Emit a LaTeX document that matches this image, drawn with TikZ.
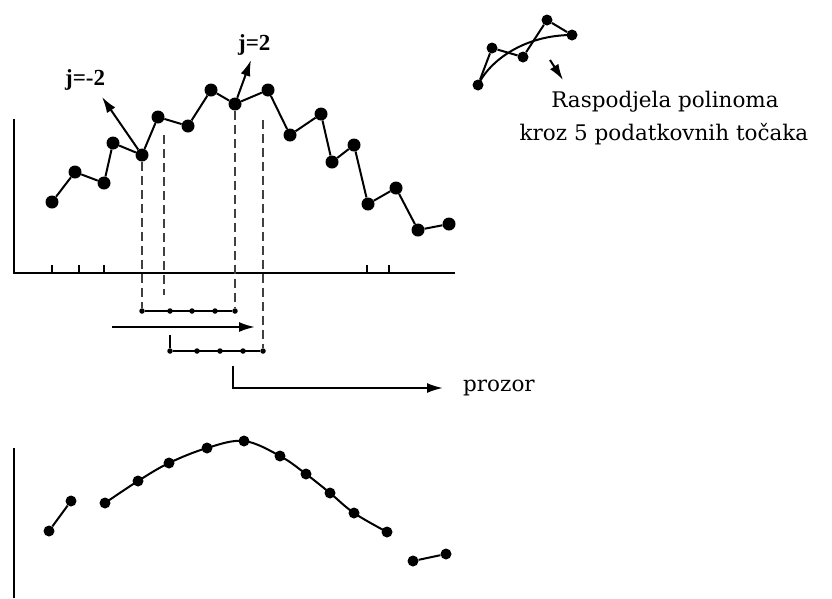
\documentclass[tikz,border=0pt]{standalone}
\usepackage{fontspec}
\setmainfont{DejaVu Serif}
\newfontfamily\jfont{Liberation Serif}
\usetikzlibrary{arrows,arrows.meta,positioning,calc}

\begin{document}
\begin{tikzpicture}[x=1pt, y=-1pt, >={Latex[length=16pt,width=10pt]},
    datadot/.style={circle, fill=black, inner sep=0pt, minimum size=13pt},
    curvedot/.style={circle, fill=black, inner sep=0pt, minimum size=11pt},
    stepdot/.style={circle, fill=black, inner sep=0pt, minimum size=5.5pt},
    dataline/.style={line width=2pt},
    axisline/.style={line width=2.2pt},
    guide/.style={line width=2.4pt, black!75, dash pattern=on 9pt off 5pt},
    jlabel/.style={font=\jfont\bfseries\fontsize{23}{27}\selectfont, anchor=base west, inner sep=0pt},
    textlabel/.style={font=\fontsize{21.5}{33}\selectfont, anchor=base, inner sep=0pt}]
    \useasboundingbox (0,0) rectangle (832,598);

    % Upper plot: axes
    \coordinate (origin) at (14,273);
    \coordinate (ytop) at (14,119);
    \coordinate (xend) at (455,273);
    \draw[axisline] (ytop) -- (origin) -- (xend);
    \foreach \t in {52,79,104,367,389}
        \draw[axisline] (\t,273) -- (\t,265);

    % Upper plot: noisy data
    \foreach \i/\x/\y in {1/52/202, 2/75/172, 3/104/183, 4/113/143, 5/142/155, 6/158/117,
                          7/188/126, 8/211/90, 9/235/104, 10/268/90, 11/290/135, 12/321/114,
                          13/332/162, 14/354/145, 15/368/204, 16/396/188, 17/418/230, 18/449/224}
        \node[datadot] (p\i) at (\x,\y) {};
    \foreach \i [remember=\i as \j (initially 1)] in {2,...,18}
        \draw[dataline] (p\j) -- (p\i);

    % Window edges
    \node[jlabel] (jm) at (65,85) {j=-2};
    \node[jlabel] (jp) at (238,50) {j=2};
    \coordinate (jmtip) at (102,97);
    \coordinate (jptip) at (251,60);
    \draw[->, dataline] (p5) -- (jmtip);
    \draw[->, dataline] (p9) -- (jptip);

    % Sliding window positions
    \foreach \i/\x in {1/142, 2/170, 3/192, 4/215, 5/235}
        \node[stepdot] (w\i) at (\x,311) {};
    \foreach \i/\x in {1/170, 2/197, 3/220, 4/243, 5/263}
        \node[stepdot] (v\i) at (\x,351) {};
    \draw[dataline] (w1) -- (w5);
    \draw[dataline] (v1) -- (v5);
    \coordinate (vtick) at (170,335);
    \draw[dataline] (vtick) -- (v1);

    % Dashed guides
    \coordinate (g2a) at (164,135);
    \coordinate (g2b) at (164,295);
    \coordinate (g4a) at (263,120);
    \draw[guide] (p5) -- (w1);
    \draw[guide] (g2a) -- (g2b);
    \draw[guide] (p9) -- (w5);
    \draw[guide] (g4a) -- (v5);

    % Shift arrow
    \coordinate (slidea) at (112,327);
    \coordinate (slideb) at (255,327);
    \draw[->, dataline] (slidea) -- (slideb);

    % Window label
    \node[font=\fontsize{21.5}{26}\selectfont, anchor=west, inner sep=0pt] (prozor) at (463,388) {prozor};
    \coordinate (winstart) at (233,366);
    \draw[->, dataline, shorten >=20pt] (winstart) |- (prozor.west);

    % Inset: polynomial through 5 points
    \foreach \i/\x/\y in {1/478/85, 2/492/48, 3/523/57, 4/547/20, 5/572/35}
        \node[curvedot] (s\i) at (\x,\y) {};
    \draw[dataline] (s1) -- (s2) -- (s3) -- (s4) -- (s5);
    \draw[dataline] (s1.center) .. controls (490,60) and (525,35) .. (s5.center);
    \coordinate (insa) at (550,60);
    \coordinate (insb) at (563,80);
    \draw[->, dataline] (insa) -- (insb);
    \node[textlabel] (desc1) at (665,107) {Raspodjela polinoma};
    \node[textlabel] (desc2) at (664,140) {kroz 5 podatkovnih točaka};

    % Lower plot: smoothed result
    \coordinate (ybot) at (14,598);
    \coordinate (ytop2) at (14,448);
    \draw[axisline] (ytop2) -- (ybot);
    \foreach \i/\x/\y in {1/49/531, 2/71/501, 3/105/503, 4/138/481, 5/169/463, 6/207/448, 7/244/441,
                          8/280/456, 9/306/474, 10/330/493, 11/354/513, 12/387/532, 13/413/561, 14/446/554}
        \node[curvedot] (q\i) at (\x,\y) {};
    \draw[dataline] (q1) -- (q2);
    \draw[dataline] plot[smooth, tension=0.6] coordinates {(q3) (q4) (q5) (q6) (q7) (q8) (q9) (q10) (q11) (q12)};
    \draw[dataline] (q13) -- (q14);
\end{tikzpicture}
\end{document}
